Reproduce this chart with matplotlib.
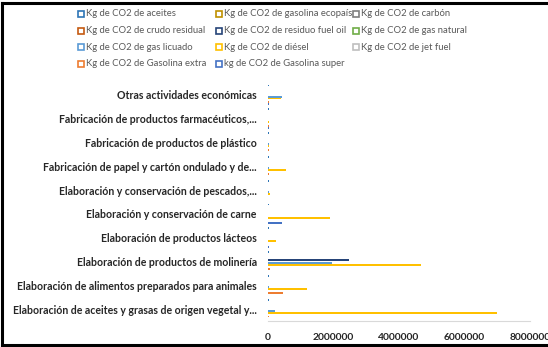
import numpy as np
import matplotlib.pyplot as plt
from matplotlib.lines import Line2D

plt.rcParams['font.family'] = ['Lato', 'DejaVu Sans']

# categories, bottom to top as drawn
categories = [
    'Elaboración de aceites y grasas de origen vegetal y...',
    'Elaboración de alimentos preparados para animales',
    'Elaboración de productos de molinería',
    'Elaboración de productos lácteos',
    'Elaboración y conservación de carne',
    'Elaboración y conservación de pescados,...',
    'Fabricación de papel y cartón ondulado y de...',
    'Fabricación de productos de plástico',
    'Fabricación de productos farmacéuticos,...',
    'Otras actividades económicas',
]

series_names = [
    'Kg de CO2 de aceites',
    'Kg de CO2 de gasolina ecopaís',
    'Kg de CO2 de carbón',
    'Kg de CO2 de crudo residual',
    'Kg de CO2 de residuo fuel oil',
    'Kg de CO2 de gas natural',
    'Kg de CO2 de gas licuado',
    'Kg de CO2 de diésel',
    'Kg de CO2 de jet fuel',
    'Kg de CO2 de Gasolina extra',
    'kg de CO2 de Gasolina super',
]

aceites      = [40000, 40000, 40000, 40000, 40000, 40000, 40000, 40000, 40000, 40000]
ecopais      = [0, 0, 0, 0, 0, 0, 0, 0, 0, 0]
carbon       = [0, 0, 0, 0, 0, 0, 0, 0, 0, 0]
crudo_resid  = [0, 0, 0, 0, 0, 0, 0, 0, 0, 0]
residuo_fuel = [0, 0, 2460000, 0, 0, 0, 0, 0, 0, 0]
gas_natural  = [0, 0, 0, 0, 0, 0, 0, 0, 0, 0]
gas_licuado  = [200000, 40000, 1970000, 0, 0, 30000, 30000, 30000, 0, 420000]
diesel       = [7000000, 1190000, 4680000, 240000, 1900000, 50000, 550000, 30000, 30000, 400000]
jet_fuel     = [0, 0, 0, 0, 0, 0, 0, 0, 0, 0]
gas_extra    = [30000, 450000, 60000, 0, 0, 0, 40000, 30000, 30000, 40000]
gas_super    = [0, 0, 0, 30000, 430000, 0, 0, 0, 30000, 30000]

values = [aceites, ecopais, carbon, crudo_resid, residuo_fuel, gas_natural,
          gas_licuado, diesel, jet_fuel, gas_extra, gas_super]

colors = ['#2E75B6', '#BF9000', '#7F7F7F', '#C55A11', '#264478', '#70AD47',
          '#5B9BD5', '#FFC000', '#BFBFBF', '#ED7D31', '#4472C4']

xticks = [0, 2000000, 4000000, 6000000, 8000000]

fig = plt.figure(figsize=(5.48, 3.47), dpi=100)
ax = fig.add_axes([0.489, 0.075, 0.478, 0.686])

n = len(values)
h = 0.86 / n
y = np.arange(len(categories))
for j, (vals, c) in enumerate(zip(values, colors)):
    # first series at the top of each cluster
    off = (n - 1) / 2 * h - j * h
    ax.barh(y + off, vals, height=h, color=c, linewidth=0)

ax.set_ylim(-0.5, len(categories) - 0.5)
ax.set_xlim(0, 8000000)
ax.set_xticks(xticks)
ax.set_xticklabels([str(v) for v in xticks], fontsize=7.4, fontweight='bold', color='#262626')
ax.set_yticks(y)
ax.set_yticklabels(categories, fontsize=7.6, fontweight='bold', color='#262626')
ax.tick_params(axis='both', length=0)
ax.tick_params(axis='x', pad=9)
ax.tick_params(axis='y', pad=8)
for s in ['top', 'right', 'left']:
    ax.spines[s].set_visible(False)
ax.spines['bottom'].set_color('#D9D9D9')
ax.spines['bottom'].set_linewidth(0.8)

# legend, laid out row by row like the original
col_x = [0.148, 0.400, 0.650]
row_y = [0.960, 0.912, 0.864, 0.816]
for i, (name, c) in enumerate(zip(series_names, colors)):
    r, k = divmod(i, 3)
    fig.add_artist(Line2D([col_x[k]], [row_y[r]], marker='s', ls='', markersize=5,
                          markerfacecolor='white', markeredgecolor=c,
                          markeredgewidth=1.2, transform=fig.transFigure))
    fig.text(col_x[k] + 0.009, row_y[r], name, fontsize=6.8, color='#595959',
             va='center', ha='left')

# black frame of the screenshot
for xs, ys in [([0.004, 0.004], [0.005, 0.992]), ([0.004, 1.0], [0.991, 0.991]),
               ([0.004, 1.0], [0.006, 0.006])]:
    fig.add_artist(Line2D(xs, ys, color='black', lw=2.2, transform=fig.transFigure))

plt.savefig('out.png', dpi=100)
